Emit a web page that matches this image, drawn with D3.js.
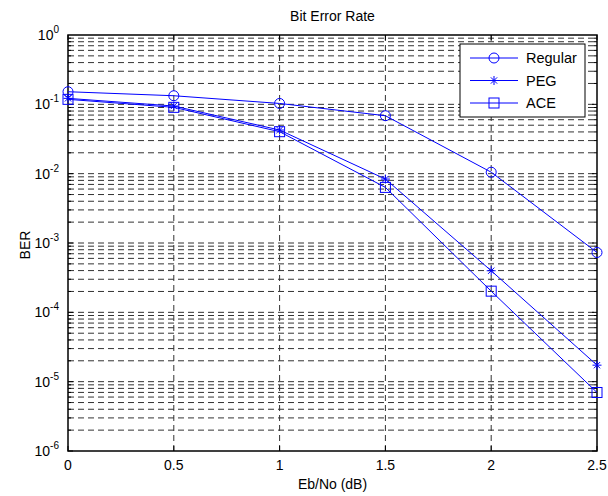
<!DOCTYPE html>
<html>
<head>
<meta charset="utf-8">
<script src="https://cdn.jsdelivr.net/npm/d3@7"></script>
<style>
  body { margin: 0; background: #fff; }
  text { font-family: "Liberation Sans", Arial, sans-serif; }
</style>
</head>
<body>
<div id="chart"></div>
<script>
// BER results
const ebno = [0, 0.5, 1, 1.5, 2, 2.5];
const berRegular = [0.152, 0.133, 0.103, 0.0685, 0.0105, 7.3e-4];
const berPEG = [0.122, 0.0945, 0.0426, 0.00836, 3.98e-4, 1.73e-5];
const berACE = [0.118, 0.0905, 0.0403, 0.00634, 2.02e-4, 6.98e-6];
const seriesNames = ["Regular", "PEG", "ACE"];
const xTicks = [0, 0.5, 1, 1.5, 2, 2.5];
const yExponents = [-6, -5, -4, -3, -2, -1, 0];

const width = 608, height = 496;
const margin = {top: 35, right: 11, bottom: 45, left: 68};
const plotW = width - margin.left - margin.right;
const plotH = height - margin.top - margin.bottom;
const blue = "#0000ff";

const svg = d3.select("#chart").append("svg")
    .attr("width", width)
    .attr("height", height);

const g = svg.append("g")
    .attr("transform", `translate(${margin.left},${margin.top})`);

const x = d3.scaleLinear().domain([0, 2.5]).range([0, plotW]);
const y = d3.scaleLog().domain([1e-6, 1]).range([plotH, 0]);

// minor + major grid values
const gridY = [];
yExponents.forEach(e => {
    if (e === 0) return;
    for (let k = 1; k <= 9; k++) gridY.push(k * Math.pow(10, e));
});

g.append("g").selectAll("line.hgrid")
    .data(gridY.filter(v => v > 1e-6))
    .enter().append("line")
    .attr("x1", 0).attr("x2", plotW)
    .attr("y1", d => y(d)).attr("y2", d => y(d))
    .attr("stroke", "#333")
    .attr("stroke-width", 1)
    .attr("stroke-dasharray", "6,4");

g.append("g").selectAll("line.vgrid")
    .data(xTicks.slice(1, -1))
    .enter().append("line")
    .attr("x1", d => x(d)).attr("x2", d => x(d))
    .attr("y1", 0).attr("y2", plotH)
    .attr("stroke", "#333")
    .attr("stroke-width", 1)
    .attr("stroke-dasharray", "6,4");

// ticks inside the box
const tickG = g.append("g");
gridY.forEach(v => {
    const major = Math.abs(Math.log10(v) - Math.round(Math.log10(v))) < 1e-9;
    const len = major ? 5 : 3;
    tickG.append("line").attr("x1", 0).attr("x2", len)
        .attr("y1", y(v)).attr("y2", y(v)).attr("stroke", "#000");
    tickG.append("line").attr("x1", plotW).attr("x2", plotW - len)
        .attr("y1", y(v)).attr("y2", y(v)).attr("stroke", "#000");
});
xTicks.forEach(v => {
    tickG.append("line").attr("x1", x(v)).attr("x2", x(v))
        .attr("y1", plotH).attr("y2", plotH - 5).attr("stroke", "#000");
    tickG.append("line").attr("x1", x(v)).attr("x2", x(v))
        .attr("y1", 0).attr("y2", 5).attr("stroke", "#000");
});

// frame
g.append("rect")
    .attr("width", plotW).attr("height", plotH)
    .attr("fill", "none").attr("stroke", "#000").attr("stroke-width", 1.5);

// x tick labels
g.selectAll("text.xt")
    .data(xTicks)
    .enter().append("text")
    .attr("x", d => x(d))
    .attr("y", plotH + 19)
    .attr("text-anchor", "middle")
    .attr("font-size", 14)
    .text(d => d);

// y tick labels 10^e
yExponents.forEach(e => {
    const t = g.append("text")
        .attr("x", -9)
        .attr("y", y(Math.pow(10, e)) + 5)
        .attr("text-anchor", "end")
        .attr("font-size", 14);
    t.append("tspan").text("10");
    t.append("tspan").attr("dy", -7).attr("font-size", 10).text(e);
});

// titles
svg.append("text")
    .attr("x", margin.left + plotW / 2).attr("y", 21)
    .attr("text-anchor", "middle").attr("font-size", 14)
    .text("Bit Error Rate");
svg.append("text")
    .attr("x", margin.left + plotW / 2).attr("y", 489)
    .attr("text-anchor", "middle").attr("font-size", 14)
    .text("Eb/No (dB)");
svg.append("text")
    .attr("transform", `translate(30,${margin.top + plotH / 2 + 2}) rotate(-90)`)
    .attr("text-anchor", "middle").attr("font-size", 14)
    .text("BER");

// series
const series = [berRegular, berPEG, berACE];
const line = d3.line().x((d, i) => x(ebno[i])).y(d => y(d));

function drawMarker(sel, type, cx, cy) {
    if (type === 0) {
        sel.append("circle").attr("cx", cx).attr("cy", cy).attr("r", 5)
            .attr("fill", "none").attr("stroke", blue);
    } else if (type === 1) {
        const s = 4.5;
        sel.append("path")
            .attr("d", `M${cx - s},${cy}L${cx + s},${cy}M${cx},${cy - s}L${cx},${cy + s}` +
                `M${cx - s * 0.7},${cy - s * 0.7}L${cx + s * 0.7},${cy + s * 0.7}` +
                `M${cx - s * 0.7},${cy + s * 0.7}L${cx + s * 0.7},${cy - s * 0.7}`)
            .attr("stroke", blue).attr("fill", "none");
    } else {
        sel.append("rect").attr("x", cx - 5).attr("y", cy - 5)
            .attr("width", 10).attr("height", 10)
            .attr("fill", "none").attr("stroke", blue);
    }
}

series.forEach((vals, si) => {
    g.append("path")
        .datum(vals)
        .attr("d", line)
        .attr("fill", "none")
        .attr("stroke", blue)
        .attr("stroke-width", 1);
    vals.forEach((v, i) => drawMarker(g, si, x(ebno[i]), y(v)));
});

// legend
const lg = svg.append("g").attr("transform", "translate(460,44)");
lg.append("rect").attr("width", 125).attr("height", 73)
    .attr("fill", "#fff").attr("stroke", "#000").attr("stroke-width", 1);
seriesNames.forEach((name, i) => {
    const ly = 14 + i * 22.5;
    lg.append("line").attr("x1", 10).attr("x2", 58)
        .attr("y1", ly).attr("y2", ly).attr("stroke", blue);
    drawMarker(lg, i, 34, ly);
    lg.append("text").attr("x", 66).attr("y", ly + 5)
        .attr("font-size", 14.5).text(name);
});
</script>
</body>
</html>
